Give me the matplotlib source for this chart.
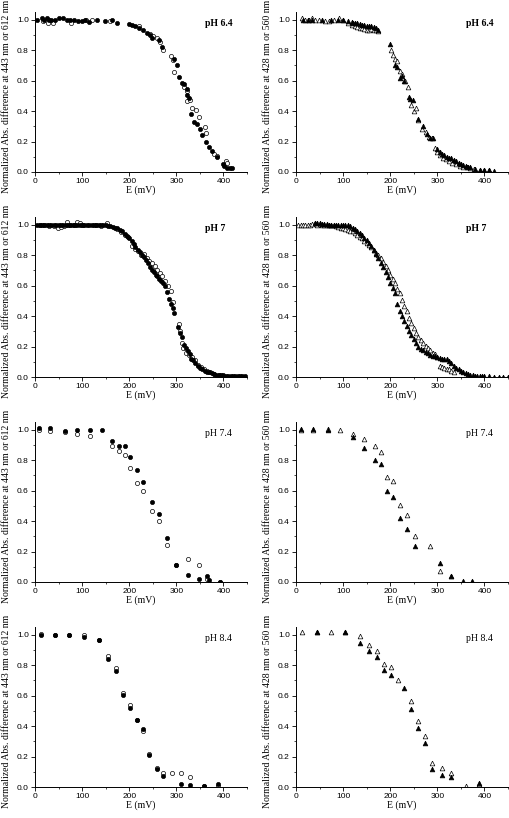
import matplotlib
matplotlib.use("Agg")
import matplotlib.pyplot as plt
from matplotlib.ticker import MultipleLocator, FormatStrFormatter

# pH 6.4, 443/612 nm (circles)
x1f = [4, 14, 20, 25, 30, 35, 42, 51, 60, 67, 74, 83, 92, 100, 107, 114, 131, 149, 163, 174,
       199, 206, 213, 220, 229, 238, 245, 249, 263, 270, 295, 302, 305, 311, 316, 322, 323, 327,
       332, 337, 343, 350, 355, 364, 369, 376, 386, 398, 401, 408, 413, 418]
y1f = [1.0, 1.01, 1.0, 1.01, 1.0, 1.0, 1.0, 1.01, 1.01, 1.0, 1.0, 0.995, 0.99, 0.99, 1.0, 0.985,
       1.0, 0.99, 0.995, 0.98, 0.97, 0.965, 0.96, 0.947, 0.93, 0.91, 0.90, 0.88, 0.868, 0.818,
       0.74, 0.70, 0.625, 0.587, 0.576, 0.543, 0.503, 0.484, 0.378, 0.327, 0.316, 0.284, 0.24,
       0.20, 0.163, 0.136, 0.097, 0.053, 0.037, 0.026, 0.026, 0.026]
x1o = [18, 28, 39, 77, 109, 121, 160, 220, 244, 251, 258, 265, 272, 289, 293, 296, 316, 323, 323,
       330, 334, 341, 348, 360, 364, 381, 387, 405, 408]
y1o = [0.99, 0.98, 0.98, 0.98, 1.0, 1.0, 0.99, 0.96, 0.905, 0.895, 0.877, 0.85, 0.80, 0.763,
       0.734, 0.657, 0.56, 0.53, 0.466, 0.473, 0.422, 0.41, 0.36, 0.294, 0.257, 0.121, 0.108,
       0.072, 0.06]

# pH 6.4, 428/560 nm (triangles)
x2f = [15, 25, 35, 55, 75, 90, 100, 110, 118, 122, 126, 130, 135, 140, 145, 150, 155, 160, 165,
       170, 175, 200, 210, 215, 220, 225, 230, 240, 243, 248, 260, 270, 278, 285, 290, 300, 305,
       310, 315, 320, 325, 330, 335, 340, 345, 350, 355, 360, 365, 370, 380, 390, 400, 410, 420]
y2f = [1.0, 1.0, 1.0, 1.0, 0.995, 1.0, 1.0, 0.99, 0.985, 0.98, 0.975, 0.975, 0.97, 0.965, 0.965,
       0.96, 0.955, 0.955, 0.95, 0.945, 0.935, 0.84, 0.70, 0.69, 0.62, 0.63, 0.60, 0.49, 0.48,
       0.47, 0.35, 0.30, 0.25, 0.22, 0.22, 0.15, 0.13, 0.12, 0.11, 0.10, 0.095, 0.09, 0.08, 0.07,
       0.06, 0.05, 0.045, 0.04, 0.035, 0.03, 0.02, 0.015, 0.01, 0.01, 0.005]
x2o = [12, 20, 28, 35, 40, 48, 62, 70, 80, 92, 100, 110, 118, 125, 130, 135, 140, 145, 150, 155,
       160, 165, 170, 175, 202, 205, 210, 215, 220, 225, 232, 238, 245, 250, 255, 260, 268, 275,
       282, 288, 295, 300, 305, 312, 318, 325, 332, 340, 348, 355, 362, 370, 378, 390, 398, 410]
y2o = [1.01, 1.0, 0.995, 1.01, 1.0, 0.995, 0.99, 0.99, 0.995, 1.01, 1.0, 0.98, 0.965, 0.955,
       0.95, 0.945, 0.945, 0.94, 0.935, 0.935, 0.94, 0.935, 0.93, 0.925, 0.80, 0.77, 0.74, 0.73,
       0.66, 0.64, 0.60, 0.56, 0.44, 0.40, 0.42, 0.34, 0.28, 0.26, 0.23, 0.22, 0.16, 0.13, 0.11,
       0.09, 0.085, 0.07, 0.06, 0.05, 0.04, 0.035, 0.03, 0.025, 0.02, 0.01, 0.01, 0.01]

# pH 7, circles
x3f = [5, 10, 15, 20, 25, 30, 35, 40, 45, 50, 55, 60, 65, 70, 75, 80, 85, 90, 95, 100,
       105, 110, 115, 120, 125, 130, 135, 140, 145, 150, 155, 160, 165, 170, 175, 180, 185, 190,
       195, 200, 205, 210, 213, 218, 222, 228, 232, 236, 240, 244, 248, 252, 256, 260, 264, 268,
       272, 276, 280, 284, 288, 292, 296, 304, 308, 312, 316, 320, 324, 328, 332, 336, 340, 345,
       350, 355, 360, 365, 370, 375, 380, 385, 390, 395, 400, 405, 410, 415, 420, 425, 430, 435,
       440, 445]
y3f = [1.0, 1.0, 1.0, 1.0, 1.0, 1.0, 1.0, 1.0, 1.0, 1.0, 1.0, 1.0, 1.0, 1.0, 1.0, 1.0, 1.0, 1.0,
       1.0, 1.0, 1.0, 1.0, 1.0, 1.0, 1.0, 1.0, 0.995, 0.995, 0.995, 0.995, 0.99, 0.99, 0.985, 0.98,
       0.975, 0.965, 0.955, 0.94, 0.925, 0.91, 0.89, 0.87, 0.85, 0.835, 0.82, 0.80, 0.785, 0.77,
       0.745, 0.72, 0.70, 0.69, 0.67, 0.66, 0.645, 0.63, 0.615, 0.595, 0.56, 0.51, 0.48, 0.45,
       0.42, 0.33, 0.29, 0.26, 0.21, 0.19, 0.17, 0.15, 0.12, 0.11, 0.09, 0.075, 0.06, 0.05, 0.04,
       0.035, 0.03, 0.025, 0.02, 0.015, 0.013, 0.011, 0.01, 0.009, 0.008, 0.007, 0.006, 0.005,
       0.005, 0.005, 0.004, 0.004]
x3o = [10, 20, 30, 40, 48, 55, 62, 68, 75, 82, 90, 96, 102, 130, 140, 152, 175, 182, 190, 198,
       205, 212, 218, 225, 232, 238, 242, 248, 254, 260, 266, 270, 276, 282, 288, 292, 305, 308,
       311, 315, 320, 326, 333, 340, 347, 352, 358, 365, 372, 380, 390]
y3o = [1.0, 1.0, 0.99, 0.99, 0.98, 0.985, 0.99, 1.015, 1.0, 1.0, 1.015, 1.01, 1.0, 0.995, 0.99,
       1.01, 0.97, 0.95, 0.935, 0.92, 0.86, 0.84, 0.825, 0.80, 0.81, 0.78, 0.76, 0.745, 0.73,
       0.70, 0.685, 0.66, 0.63, 0.60, 0.565, 0.49, 0.345, 0.30, 0.22, 0.19, 0.16, 0.145, 0.13,
       0.11, 0.08, 0.065, 0.05, 0.04, 0.03, 0.02, 0.01]

# pH 7, triangles
x4f = [40, 45, 50, 55, 60, 65, 70, 75, 80, 85, 90, 95, 100, 105, 110, 115, 120, 125, 130, 135,
       140, 145, 150, 155, 160, 165, 170, 175, 180, 185, 190, 195, 200, 205, 210, 215, 220, 225,
       230, 235, 240, 245, 250, 255, 260, 265, 270, 275, 280, 285, 290, 295, 300, 305, 310, 315,
       320, 325, 330, 335, 340, 345, 350, 355, 360, 365, 370, 375, 380, 385, 390, 395, 400, 410,
       420, 430, 440, 450]
y4f = [1.01, 1.01, 1.01, 1.005, 1.005, 1.005, 1.0, 1.0, 1.0, 1.0, 1.0, 1.0, 1.0, 1.0, 0.995,
       0.99, 0.98, 0.97, 0.96, 0.945, 0.93, 0.915, 0.90, 0.88, 0.86, 0.835, 0.81, 0.78, 0.75,
       0.72, 0.69, 0.655, 0.62, 0.585, 0.55, 0.48, 0.43, 0.40, 0.37, 0.335, 0.305, 0.275, 0.25,
       0.225, 0.20, 0.185, 0.175, 0.165, 0.155, 0.145, 0.14, 0.135, 0.13, 0.125, 0.12, 0.12,
       0.115, 0.105, 0.09, 0.075, 0.06, 0.05, 0.04, 0.03, 0.025, 0.02, 0.015, 0.01, 0.008, 0.006,
       0.005, 0.005, 0.004, 0.004, 0.003, 0.003, 0.003, 0.003]
x4o = [5, 10, 15, 20, 25, 30, 35, 40, 45, 50, 55, 60, 65, 70, 75, 80, 85, 90, 95, 100, 105, 110,
       115, 120, 125, 130, 135, 140, 145, 150, 155, 160, 165, 170, 175, 180, 185, 190, 195, 200,
       205, 210, 215, 220, 225, 230, 235, 240, 245, 250, 255, 260, 265, 270, 275, 280, 285, 290,
       295, 300, 305, 310, 315, 320, 325, 330, 335]
y4o = [1.0, 1.0, 1.0, 1.0, 1.0, 1.0, 1.005, 1.01, 1.0, 1.005, 1.0, 1.0, 1.0, 1.0, 0.995, 0.995,
       0.99, 0.985, 0.98, 0.975, 0.97, 0.965, 0.96, 0.955, 0.945, 0.935, 0.92, 0.91, 0.895, 0.88,
       0.865, 0.85, 0.835, 0.815, 0.80, 0.78, 0.755, 0.73, 0.70, 0.67, 0.645, 0.615, 0.58, 0.55,
       0.505, 0.465, 0.43, 0.39, 0.355, 0.32, 0.29, 0.265, 0.24, 0.22, 0.205, 0.19, 0.18, 0.16,
       0.15, 0.13, 0.07, 0.065, 0.06, 0.055, 0.05, 0.04, 0.035]

# pH 7.4
x5f = [8, 32, 64, 90, 116, 142, 163, 178, 190, 201, 217, 229, 249, 263, 281, 300, 325, 349, 366, 370, 392]
y5f = [1.01, 1.01, 0.99, 0.995, 1.0, 0.995, 0.928, 0.89, 0.89, 0.82, 0.737, 0.656, 0.525, 0.449,
       0.289, 0.114, 0.048, 0.022, 0.037, 0.013, 0.0]
x5o = [8, 32, 64, 90, 116, 163, 178, 190, 201, 217, 229, 249, 263, 281, 300, 325, 349, 366, 392]
y5o = [0.996, 0.994, 0.985, 0.974, 0.956, 0.895, 0.862, 0.832, 0.748, 0.65, 0.60, 0.464, 0.398,
       0.24, 0.114, 0.153, 0.114, 0.022, 0.0]
x6f = [11, 36, 68, 120, 144, 168, 181, 194, 206, 221, 235, 253, 305, 330, 355, 373]
y6f = [1.005, 1.005, 1.0, 0.95, 0.88, 0.80, 0.777, 0.60, 0.56, 0.42, 0.35, 0.234, 0.125, 0.04, 0.004, 0.004]
x6o = [11, 36, 68, 93, 120, 144, 168, 181, 194, 206, 221, 235, 253, 285, 305, 330, 373]
y6o = [1.0, 1.0, 1.005, 1.0, 0.97, 0.94, 0.89, 0.855, 0.687, 0.66, 0.508, 0.442, 0.30, 0.234,
       0.072, 0.04, 0.0]

# pH 8.4
x7f = [12, 43, 73, 104, 135, 156, 171, 187, 201, 216, 229, 242, 259, 272, 309, 329, 359, 388]
y7f = [1.0, 0.996, 0.996, 0.987, 0.963, 0.838, 0.764, 0.602, 0.521, 0.437, 0.379, 0.212, 0.118,
       0.072, 0.022, 0.013, 0.004, 0.017]
x7o = [12, 43, 73, 104, 135, 156, 171, 187, 201, 216, 229, 242, 259, 272, 291, 309, 329, 359, 388]
y7o = [1.007, 1.0, 1.0, 1.0, 0.965, 0.86, 0.78, 0.62, 0.54, 0.437, 0.37, 0.215, 0.127, 0.09,
       0.09, 0.09, 0.066, 0.009, 0.004]
x8f = [45, 105, 136, 156, 172, 187, 201, 230, 244, 259, 274, 288, 310, 329, 388]
y8f = [1.02, 1.017, 0.947, 0.893, 0.853, 0.766, 0.735, 0.648, 0.514, 0.39, 0.287, 0.116, 0.081,
       0.068, 0.025]
x8o = [13, 45, 75, 105, 136, 156, 172, 187, 201, 216, 244, 259, 274, 288, 310, 329, 360, 388]
y8o = [1.02, 1.02, 1.02, 1.02, 0.99, 0.93, 0.89, 0.81, 0.785, 0.70, 0.565, 0.435, 0.335, 0.16,
       0.125, 0.095, 0.005, 0.02]

ph_labels = ["pH 6.4", "pH 6.4", "pH 7", "pH 7", "pH 7.4", "pH 7.4", "pH 8.4", "pH 8.4"]
ylab_left = "Normalized Abs. difference at 443 nm or 612 nm"
ylab_right = "Normalized Abs. difference at 428 nm or 560 nm"

serif = ["Liberation Serif", "DejaVu Serif"]
sans = ["Liberation Sans", "DejaVu Sans"]

fig = plt.figure(figsize=(5.10, 8.18), dpi=100)
W, H = 510.0, 818.0
bottoms = [172, 377, 582, 787]
lefts = [35, 296]
aw, ah = 212, 160

panels = [
    (x1f, y1f, x1o, y1o, "o"), (x2f, y2f, x2o, y2o, "^"),
    (x3f, y3f, x3o, y3o, "o"), (x4f, y4f, x4o, y4o, "^"),
    (x5f, y5f, x5o, y5o, "o"), (x6f, y6f, x6o, y6o, "^"),
    (x7f, y7f, x7o, y7o, "o"), (x8f, y8f, x8o, y8o, "^"),
]

for i, (xf, yf, xo, yo, mk) in enumerate(panels):
    row, col = divmod(i, 2)
    ax = fig.add_axes([lefts[col] / W, 1 - bottoms[row] / H, aw / W, ah / H])
    ms = 3.0 if mk == "o" else 3.4
    ax.plot(xo, yo, linestyle="none", marker=mk, ms=ms, mfc="white", mec="black", mew=0.5)
    ax.plot(xf, yf, linestyle="none", marker=mk, ms=ms, mfc="black", mec="black", mew=0.5)
    ax.set_xlim(0, 450)
    ax.set_ylim(0, 1.05)
    ax.xaxis.set_minor_locator(MultipleLocator(50))
    ax.yaxis.set_major_locator(MultipleLocator(0.2))
    ax.yaxis.set_minor_locator(MultipleLocator(0.1))
    ax.yaxis.set_major_formatter(FormatStrFormatter("%.1f"))
    ax.set_xticks([0, 100, 200, 300, 400])
    for s in ["top", "right"]:
        ax.spines[s].set_visible(False)
    for s in ["left", "bottom"]:
        ax.spines[s].set_linewidth(0.7)
    ax.tick_params(which="major", direction="out", length=3, width=0.6, pad=1.5, labelsize=6.0)
    ax.tick_params(which="minor", direction="out", length=1.6, width=0.5)
    for lab in ax.get_xticklabels() + ax.get_yticklabels():
        lab.set_family(sans)
    ax.set_xlabel("E (mV)", family=serif, fontsize=7.0)
    ax.xaxis.set_label_coords(0.5, -0.085)
    ax.set_ylabel(ylab_left if col == 0 else ylab_right, family=serif, fontsize=7.0)
    ax.yaxis.set_label_coords(-0.115, 0.47)
    ax.text(0.80, 0.93, ph_labels[i], transform=ax.transAxes, family=serif, fontsize=7.0,
            fontweight="bold" if row < 2 else "normal", ha="left", va="center")

fig.savefig("out.png", dpi=100)
